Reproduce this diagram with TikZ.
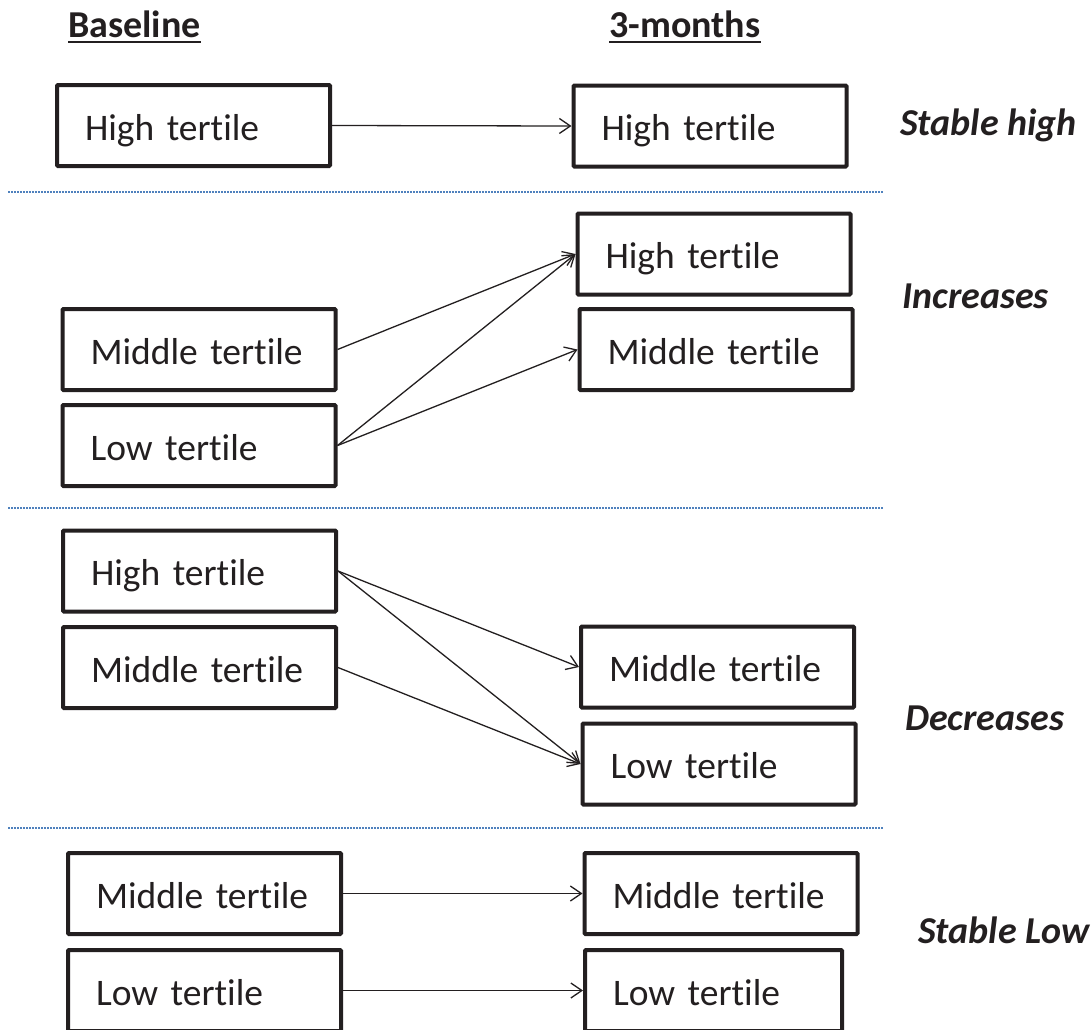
\documentclass[tikz,border=0pt]{standalone}
\usepackage{fontspec}
\setmainfont{Carlito}[Ligatures=CommonOff]
\usetikzlibrary{arrows.meta}
\definecolor{ink}{HTML}{231F20}
\definecolor{sepblue}{HTML}{4F81BD}
\begin{document}
\begin{tikzpicture}[x=1pt,y=-1pt,
  box/.style={draw=ink, line width=4pt, rounded corners=1pt, minimum width=273pt, minimum height=81pt,
    text width=217pt, inner xsep=28pt, inner ysep=0pt, align=left, text height=29pt, text depth=0pt,
    font=\fontsize{37.5}{44}\selectfont, text=ink,
    execute at begin node={\hyphenpenalty=10000\exhyphenpenalty=10000\hbadness=10000\hfuzz=100pt}},
  shortbox/.style={box, minimum width=257pt, text width=201pt},
  link/.style={draw=ink, line width=1.3pt, -{Straight Barb[length=11pt,width=15pt,line width=1.3pt]}},
  sepline/.style={draw=sepblue, line width=1.5pt, dash pattern=on 1.5pt off 1.5pt},
  lab/.style={font=\fontsize{38}{44}\selectfont\bfseries\itshape, text=ink, anchor=base west, inner sep=0pt},
  head/.style={font=\fontsize{38}{44}\selectfont\bfseries, text=ink, anchor=base, inner sep=0pt},
  uline/.style={draw=ink, line width=2.5pt}]
\useasboundingbox (0,0) rectangle (1092,1029);
\fill[white] (0,0) rectangle (1092,1029);

% headers
\node[head] (h1) at (134.5,37) {Baseline};
\node[head] (h2) at (685,37) {3-months};
\draw[uline] ([yshift=-5pt]h1.base west) -- ([yshift=-5pt]h1.base east);
\draw[uline] ([yshift=-5pt]h2.base west) -- ([yshift=-5pt]h2.base east);

% separators
\draw[sepline] (8,192) -- (883,192);
\draw[sepline] (8,508) -- (883,508);
\draw[sepline] (8,828) -- (883,828);

% stable high
\node[box] (a1) at (193.5,125.5) {High tertile};
\node[box] (b1) at (710,126) {High tertile};
\draw[link] (a1.east) -- (b1.west);

% increases
\node[box] (b2) at (714,254) {High tertile};
\node[box] (b3) at (716,349.5) {Middle tertile};
\node[box] (a2) at (199,349.5) {Middle tertile};
\node[box] (a3) at (199,445.5) {Low tertile};
\draw[link] (a2.east) -- (b2.west);
\draw[link] (a3.east) -- (b2.west);
\draw[link] (a3.east) -- (b3.west);

% decreases
\node[box] (a4) at (199.5,571) {High tertile};
\node[box] (a5) at (199.5,667.5) {Middle tertile};
\node[box] (b4) at (717.5,667) {Middle tertile};
\node[box] (b5) at (719,764) {Low tertile};
\draw[link] (a4.east) -- (b4.west);
\draw[link] (a4.east) -- (b5.west);
\draw[link] (a5.east) -- (b5.west);

% stable low
\node[box] (a6) at (204.5,893.5) {Middle tertile};
\node[box] (a7) at (204.5,990.5) {Low tertile};
\node[box] (b6) at (721,893.5) {Middle tertile};
\node[shortbox] (b7) at (713.5,990.5) {Low tertile};
\draw[link] (a6.east) -- (b6.west);
\draw[link] (a7.east) -- (b7.west);

% group labels
\node[lab] (l1) at (900,135) {Stable high};
\node[lab] (l2) at (902,308) {Increases};
\node[lab] (l3) at (905,730) {Decreases};
\node[lab] (l4) at (918,943) {Stable Low};
\end{tikzpicture}
\end{document}
